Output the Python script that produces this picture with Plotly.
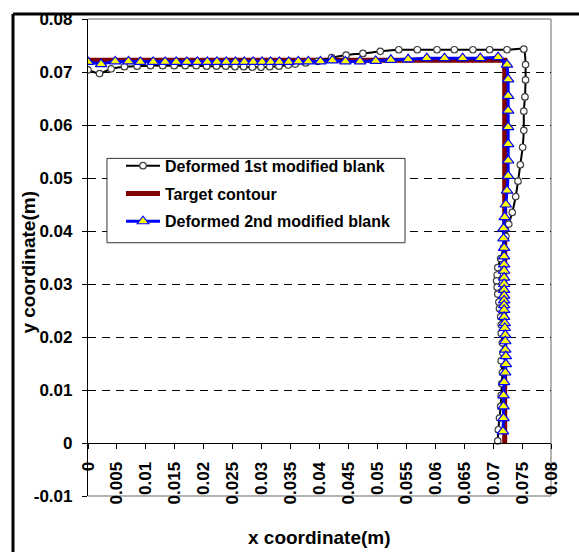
import plotly.graph_objects as go

# ---------------- data ----------------
first_x = [0.0, 0.0020, 0.0040, 0.0063, 0.0085, 0.0108, 0.0129, 0.0149, 0.0168, 0.0187,
           0.0205, 0.0222, 0.0238, 0.0254, 0.0269, 0.0284, 0.0299, 0.0314, 0.0330, 0.0346,
           0.0358, 0.0376, 0.0397, 0.0421, 0.0446, 0.0475, 0.0505, 0.0537, 0.0569, 0.0603,
           0.0633, 0.0665, 0.0694, 0.0724, 0.0753, 0.0756, 0.0756, 0.0755, 0.0753, 0.0753,
           0.0751, 0.0747, 0.0743, 0.0739, 0.0733, 0.0727, 0.0722, 0.0718, 0.0713, 0.0708,
           0.0707, 0.0706, 0.0707, 0.0708, 0.0710, 0.0711, 0.0713, 0.0714, 0.0714, 0.0716,
           0.0717, 0.0714, 0.0716, 0.0715, 0.0714, 0.0713, 0.0711, 0.0709, 0.0708]
first_y = [0.0704, 0.0697, 0.0706, 0.0710, 0.0711, 0.0712, 0.0712, 0.0712, 0.0712, 0.0712,
           0.0711, 0.0711, 0.0711, 0.0710, 0.0710, 0.0709, 0.0709, 0.0710, 0.0711, 0.0713,
           0.0715, 0.0717, 0.0720, 0.0727, 0.0732, 0.0735, 0.0739, 0.0742, 0.0742, 0.0742,
           0.0742, 0.0742, 0.0742, 0.0742, 0.0743, 0.0714, 0.0685, 0.0653, 0.0626, 0.0590,
           0.0558, 0.0525, 0.0494, 0.0465, 0.0435, 0.0413, 0.0390, 0.0368, 0.0348, 0.0331,
           0.0317, 0.0306, 0.0294, 0.0281, 0.0266, 0.0254, 0.0238, 0.0223, 0.0207, 0.0189,
           0.0170, 0.0155, 0.0133, 0.0112, 0.0090, 0.0069, 0.0047, 0.0025, 0.0004]

target_x = [0.0, 0.0720, 0.0720]
target_y = [0.0722, 0.0722, 0.0]

second_x = [0.0, 0.00227, 0.00469, 0.0070, 0.00904, 0.01127, 0.01332, 0.01524, 0.01709, 0.01889,
            0.02061, 0.02227, 0.02388, 0.02547, 0.02701, 0.02854, 0.03008, 0.03155, 0.03307, 0.03468,
            0.03634, 0.03806, 0.04017, 0.04222, 0.04447, 0.04701, 0.04971, 0.05233, 0.05532, 0.05853,
            0.06159, 0.06473, 0.06779, 0.07086, 0.0724, 0.0726, 0.0726, 0.0726, 0.0726, 0.0726,
            0.0726, 0.0726, 0.0724, 0.0722, 0.0720, 0.0718, 0.0718, 0.0719, 0.0719, 0.0719,
            0.0719, 0.0719, 0.0719, 0.0719, 0.0719, 0.0719, 0.0719, 0.0719, 0.0719, 0.0720,
            0.0720, 0.0721, 0.0721, 0.0721, 0.0722, 0.0722, 0.0721, 0.0719, 0.0718, 0.0718,
            0.0718, 0.0717]
second_y = [0.0719, 0.0715, 0.0720, 0.0720, 0.0719, 0.0719, 0.0719, 0.0719, 0.0719, 0.0719,
            0.0719, 0.0719, 0.0719, 0.0719, 0.0719, 0.0719, 0.0719, 0.0719, 0.0719, 0.0719,
            0.0720, 0.0720, 0.0720, 0.0722, 0.0720, 0.0720, 0.0721, 0.0723, 0.0724, 0.0726,
            0.0726, 0.0726, 0.0726, 0.0728, 0.0714, 0.0686, 0.0655, 0.0627, 0.0596, 0.0564,
            0.0533, 0.0504, 0.0476, 0.0450, 0.0426, 0.0405, 0.0386, 0.0368, 0.0352, 0.0337,
            0.0325, 0.0312, 0.0300, 0.0289, 0.0278, 0.0269, 0.0260, 0.0251, 0.0238, 0.0226,
            0.0217, 0.0204, 0.0192, 0.0176, 0.0164, 0.0149, 0.0133, 0.0115, 0.0090, 0.0069,
            0.0047, 0.0022, 0.0]

x_tick_vals = [0.0, 0.005, 0.01, 0.015, 0.02, 0.025, 0.03, 0.035, 0.04, 0.045, 0.05,
               0.055, 0.06, 0.065, 0.07, 0.075, 0.08]
x_tick_labels = ["0", "0.005", "0.01", "0.015", "0.02", "0.025", "0.03", "0.035", "0.04",
                 "0.045", "0.05", "0.055", "0.06", "0.065", "0.07", "0.075", "0.08"]
y_tick_vals = [-0.01, 0.0, 0.01, 0.02, 0.03, 0.04, 0.05, 0.06, 0.07, 0.08]
y_tick_labels = ["-0.01", "0", "0.01", "0.02", "0.03", "0.04", "0.05", "0.06", "0.07", "0.08"]

names = ["Deformed 1st modified blank", "Target contour", "Deformed 2nd modified blank"]
x_title = "x coordinate(m)"
y_title = "y coordinate(m)"

FONT = "Liberation Sans, Arial, sans-serif"

fig = go.Figure()

fig.add_trace(go.Scatter(
    x=target_x, y=target_y, mode="lines", name=names[1], legendrank=2, legendgroup="g2",
    line=dict(color="#800000", width=5),
))
fig.add_trace(go.Scatter(
    x=first_x, y=first_y, mode="lines+markers", name=names[0], legendrank=1, legendgroup="g1",
    line=dict(color="black", width=2, shape="spline", smoothing=0.5),
    marker=dict(symbol="circle", size=6.5, color="white",
                line=dict(color="#404040", width=1.2)),
))
fig.add_trace(go.Scatter(
    x=second_x, y=second_y, mode="lines+markers", name=names[2], legendrank=3, legendgroup="g3",
    line=dict(color="#0000FF", width=3),
    marker=dict(symbol="triangle-up", size=10, color="#FFFF00",
                line=dict(color="#0000FF", width=1.2)),
))

# shapes: gray plot border (top, right, bottom), legend box and black outer frame
shapes = [
    dict(type="line", xref="paper", yref="paper", x0=0, x1=1, y0=1, y1=1,
         line=dict(color="#9a9a9a", width=1.5), layer="between"),
    dict(type="line", xref="paper", yref="paper", x0=1, x1=1, y0=0, y1=1,
         line=dict(color="#9a9a9a", width=1.5), layer="between"),
    dict(type="line", xref="paper", yref="paper", x0=0, x1=1, y0=0, y1=0,
         line=dict(color="#9a9a9a", width=1.5), layer="between"),
    dict(type="rect", xref="paper", yref="paper", x0=0.041, x1=0.6847, y0=0.5309, y1=0.7078,
         line=dict(color="#333333", width=1), fillcolor="white", layer="above"),
    dict(type="line", xref="paper", yref="paper", x0=-0.162, x1=1.08, y0=1.0103, y1=1.0103,
         line=dict(color="black", width=3), layer="above"),
    dict(type="line", xref="paper", yref="paper", x0=-0.162, x1=-0.162, y0=1.0103, y1=-0.2,
         line=dict(color="black", width=3), layer="above"),
]

fig.update_layout(
    width=579, height=552,
    margin=dict(l=88, r=28, t=10, b=56),
    paper_bgcolor="white", plot_bgcolor="white",
    font=dict(family=FONT, size=16, color="black", weight="bold"),
    showlegend=True,
    legend=dict(x=0.0713, y=0.728, xanchor="left", yanchor="top",
                bgcolor="rgba(0,0,0,0)", borderwidth=0,
                font=dict(family=FONT, size=16, color="black", weight="bold"),
                itemwidth=34, tracegroupgap=4),
    shapes=shapes,
    annotations=[
        dict(text=x_title, xref="paper", yref="paper", x=0.5, y=-0.086,
             showarrow=False, xanchor="center", yanchor="middle",
             font=dict(family=FONT, size=19, color="black", weight="bold")),
        dict(text=y_title, xref="paper", yref="paper", x=-0.129, y=0.49,
             showarrow=False, xanchor="center", yanchor="middle", textangle=-90,
             font=dict(family=FONT, size=19, color="black", weight="bold")),
    ],
)

fig.update_xaxes(
    range=[0, 0.08], anchor="free", position=1/9,
    showline=True, linecolor="black", linewidth=1.2,
    ticks="outside", ticklen=5, tickcolor="black",
    tickvals=x_tick_vals, ticktext=x_tick_labels, tickangle=-90,
    tickfont=dict(family=FONT, size=17, color="black", weight="bold"),
    ticklabelstandoff=6,
    showgrid=False, zeroline=False,
)
fig.update_yaxes(
    range=[-0.01, 0.08],
    showline=True, linecolor="black", linewidth=1.2,
    ticks="outside", ticklen=5, tickcolor="black",
    tickvals=y_tick_vals, ticktext=y_tick_labels,
    tickfont=dict(family=FONT, size=17, color="black", weight="bold"),
    ticklabelstandoff=6,
    showgrid=True, gridcolor="black", gridwidth=1, griddash="8px,6px",
    zeroline=False,
)

fig.write_html("out.html")
